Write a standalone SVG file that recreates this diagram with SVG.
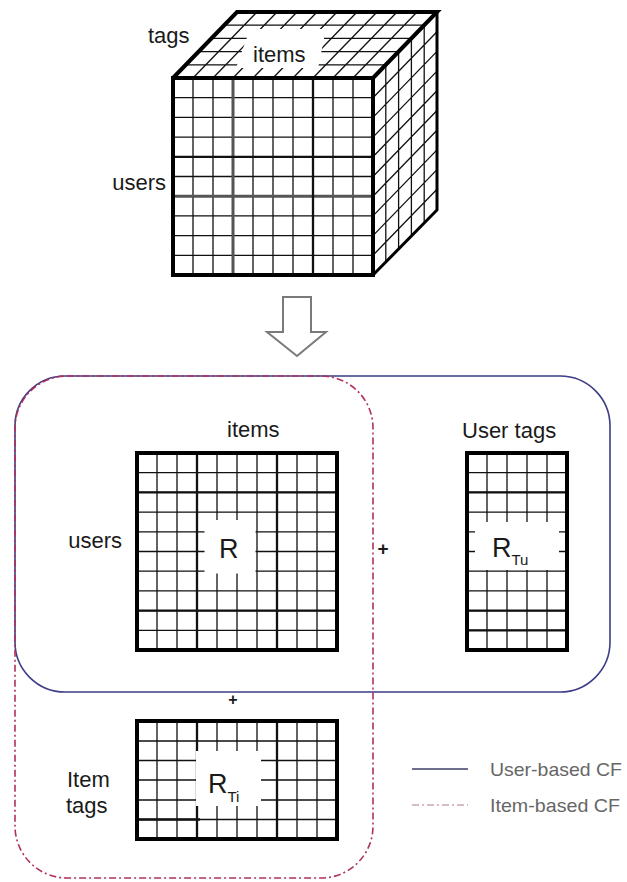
<svg xmlns="http://www.w3.org/2000/svg" width="627" height="882" viewBox="0 0 627 882">
  <style>
    .lbl { font-family: "Liberation Sans", Arial, sans-serif; font-size: 22px; fill: #1a1a1a; }
    .sym { font-family: "Liberation Sans", Arial, sans-serif; fill: #1a1a1a; }
    .leg { font-family: "Liberation Sans", Arial, sans-serif; font-size: 19px; fill: #666; }
    .grid { fill: none; stroke: #111; stroke-width: 1.3; }
    .bold { fill: none; stroke: #111; stroke-width: 2.3; }
    .frame { fill: none; stroke: #000; stroke-width: 4; stroke-linejoin: miter; }
    .blank { fill: #fff; stroke: none; }
    .user-cf { fill: none; stroke: #3d3d88; stroke-width: 1.6; }
    .item-cf { fill: none; stroke: #b0305e; stroke-width: 1.6; stroke-dasharray: 7 3 2 3; }
  </style>
  <rect width="627" height="882" fill="#fff"/>

  <!-- Tag tensor: users x items x tags -->
  <g id="tensor">
    <!-- top face -->
    <path class="grid" d="M185.8 64.8H385.8 M198.6 51.6H398.6 M211.4 38.4H411.4 M224.2 25.2H424.2
      M193 78L257 12 M213 78L277 12 M233 78L297 12 M253 78L317 12 M273 78L337 12
      M293 78L357 12 M313 78L377 12 M333 78L397 12 M353 78L417 12"/>
    <polygon class="blank" points="236,68 318,68 326,29 250,29"/>
    <!-- right face -->
    <path class="grid" d="M373 97.7L437 31.7 M373 117.4L437 51.4 M373 137.1L437 71.1 M373 156.8L437 90.8
      M373 176.5L437 110.5 M373 196.2L437 130.2 M373 215.9L437 149.9 M373 235.6L437 169.6 M373 255.3L437 189.3
      M385.8 64.8V261.8 M398.6 51.6V248.6 M411.4 38.4V235.4 M424.2 25.2V222.2"/>
    <!-- front face -->
    <path class="grid" d="M173 97.7H373 M173 117.4H373 M173 137.1H373 M173 156.8H373 M173 176.5H373
      M173 196.2H373 M173 215.9H373 M173 235.6H373 M173 255.3H373
      M193 78V275 M213 78V275 M233 78V275 M253 78V275 M273 78V275 M293 78V275 M313 78V275 M333 78V275 M353 78V275"/>
    <path d="M233 78V275 M173 196.2H373" fill="none" stroke="#555" stroke-width="3"/>
    <path class="bold" d="M313 78V275 M173 156.8H373"/>
    <!-- edges -->
    <path class="frame" d="M173 78L237 12H437L373 78"/>
    <path d="M437 12V210L373 275" fill="none" stroke="#000" stroke-width="3"/>
    <rect class="frame" x="173" y="78" width="200" height="197"/>
    <text class="lbl" x="148" y="43">tags</text>
    <text class="lbl" x="253" y="62">items</text>
    <text class="lbl" x="166" y="190" text-anchor="end">users</text>
  </g>

  <!-- decomposition arrow -->
  <g id="arrow">
    <path d="M283 297H311V332H326L297 356L267 332H283Z" fill="#fff" stroke="#7a7a7a" stroke-width="2"/>
  </g>

  <!-- CF groupings -->
  <g id="groups">
    <rect class="user-cf" x="15" y="376" width="595" height="316" rx="50"/>
    <rect class="item-cf" x="15" y="376" width="358" height="502" rx="52"/>
  </g>

  <!-- rating matrix R -->
  <g id="matrix-r">
    <path class="grid" d="M137 472.7H337 M137 492.4H337 M137 512.1H337 M137 531.8H337 M137 551.5H337
      M137 571.2H337 M137 590.9H337 M137 610.6H337 M137 630.3H337
      M157 453V650 M177 453V650 M197 453V650 M217 453V650 M237 453V650 M257 453V650
      M277 453V650 M297 453V650 M317 453V650"/>
    <path class="bold" d="M197 453V650 M277 453V650 M137 492.4H337 M137 610.6H337"/>
    <rect class="blank" x="204.5" y="520" width="51" height="53.5"/>
    <rect class="frame" x="137" y="453" width="200" height="197"/>
    <text class="lbl" x="227" y="437">items</text>
    <text class="lbl" x="122" y="548" text-anchor="end">users</text>
    <text class="sym" x="219" y="558" font-size="27">R</text>
  </g>

  <text class="sym" x="383" y="555" font-size="19" font-weight="bold" text-anchor="middle">+</text>

  <!-- user tag matrix R_Tu -->
  <g id="matrix-rtu">
    <path class="grid" d="M467 472.7H567 M467 492.4H567 M467 512.1H567 M467 531.8H567 M467 551.5H567
      M467 571.2H567 M467 590.9H567 M467 610.6H567 M467 630.3H567
      M487 453V650 M507 453V650 M527 453V650 M547 453V650"/>
    <path class="bold" d="M467 492.4H567 M467 610.6H567 M467 630.3H567"/>
    <rect class="blank" x="475" y="522" width="84" height="48"/>
    <rect class="frame" x="467" y="453" width="100" height="197"/>
    <text class="lbl" x="462" y="438">User tags</text>
    <text class="sym" x="492" y="557" font-size="27">R<tspan font-size="15" dy="8">Tu</tspan></text>
  </g>

  <text class="sym" x="233" y="705" font-size="16" font-weight="bold" text-anchor="middle">+</text>

  <!-- item tag matrix R_Ti -->
  <g id="matrix-rti">
    <path class="grid" d="M137 741H337 M137 760.5H337 M137 780H337 M137 800H337 M137 819.5H337
      M157 721V839 M177 721V839 M197 721V839 M217 721V839 M237 721V839 M257 721V839
      M277 721V839 M297 721V839 M317 721V839"/>
    <path class="bold" d="M197 721V839 M277 721V839 M137 819.5H200"/>
    <rect class="blank" x="196" y="751" width="65" height="55"/>
    <rect class="frame" x="137" y="721" width="200" height="118"/>
    <text class="lbl" x="67" y="787">Item</text>
    <text class="lbl" x="66" y="813">tags</text>
    <text class="sym" x="208" y="793" font-size="27">R<tspan font-size="15" dy="9">Ti</tspan></text>
  </g>

  <!-- legend -->
  <g id="legend">
    <line x1="412" y1="769" x2="468" y2="769" stroke="#3d3d66" stroke-width="1.6"/>
    <text class="leg" x="490" y="776" textLength="132" lengthAdjust="spacingAndGlyphs">User-based CF</text>
    <line x1="412" y1="805" x2="468" y2="805" stroke="#c8a8b4" stroke-width="1.6" stroke-dasharray="7 3 2 3"/>
    <text class="leg" x="490" y="812" textLength="130" lengthAdjust="spacingAndGlyphs">Item-based CF</text>
  </g>
</svg>
